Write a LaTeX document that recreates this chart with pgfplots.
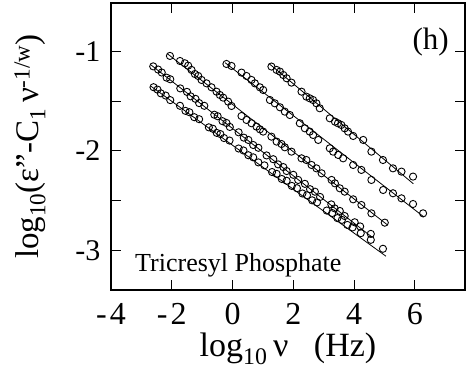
\documentclass[border=0pt]{standalone}
\usepackage{fontspec}
\setmainfont{Liberation Serif}
\usepackage{pgfplots}
\pgfplotsset{compat=1.18}
\begin{document}
\begin{tikzpicture}
\begin{axis}[
  scale only axis, width=354pt, height=287pt,
  xmin=-4, xmax=7.65, ymin=-3.4, ymax=-0.51,
  xtick={-4,-2,0,2,4,6}, ytick={-3,-2,-1}, minor ytick={-2.5,-1.5},
  xticklabels={-\kern3pt4,-\kern3pt2,0,2,4,6},
  tick align=inside, major tick length=10pt, minor tick length=10pt,
  tick style={line width=1pt, black},
  axis line style={line width=1.3pt},
  /pgf/number format/assume math mode=true,
  ticklabel style={font=\fontsize{30}{31}\selectfont},
  xticklabel style={yshift=-10pt, font=\fontsize{32}{33}\selectfont},
  yticklabel style={xshift=-7pt},
  label style={font=\fontsize{33}{34}\selectfont},
  xlabel={log\textsubscript{10}\,ν \ \ (Hz)},
  ylabel={log\textsubscript{10}(ε\char34-C\textsubscript{1}\,ν\textsuperscript{-1/w})},
  xlabel style={at={(axis description cs:0.5,0)}, anchor=base, yshift=-67pt, font=\fontsize{34}{35}\selectfont},
  ylabel style={at={(axis description cs:-0.2288,0.5)}, anchor=center, rotate=0},
  mark options={solid, line width=0.9pt, draw=black, fill=none},
  clip=false,
]
% fit lines
\addplot[black, line width=0.8pt] coordinates {(-2.15,-1.02) (5.1,-2.745)};
\addplot[black, line width=0.8pt] coordinates {(-2.7,-1.13) (4.6,-2.87)};
\addplot[black, line width=0.8pt] coordinates {(-2.7,-1.345) (5.05,-3.06)};
\addplot[black, line width=0.8pt] coordinates {(-0.25,-1.11) (6.3,-2.665)};
\addplot[black, line width=0.8pt] coordinates {(1.2,-1.12) (5.95,-2.33)};
% data
\addplot[only marks, mark=o, mark size=3.6pt] coordinates {
(-2.06,-1.043) (-1.73,-1.094) (-1.57,-1.117) (-1.46,-1.141) (-1.35,-1.184)
(-1.24,-1.225) (-1.13,-1.245) (-1.02,-1.285) (-0.856,-1.319) (-0.692,-1.359)
(-0.527,-1.403) (-0.418,-1.436) (-0.308,-1.463) (-0.144,-1.503) (-0.034,-1.547)
(0.295,-1.648) (0.46,-1.688) (0.624,-1.721) (0.788,-1.755) (0.90,-1.782)
(1.008,-1.805) (1.28,-1.856) (1.45,-1.906) (1.61,-1.930) (1.72,-1.963)
(1.94,-2.007) (2.27,-2.074) (2.43,-2.091) (2.60,-2.141) (2.76,-2.175)
(2.93,-2.225) (3.26,-2.292) (3.37,-2.326) (3.53,-2.376) (3.69,-2.410)
(3.97,-2.487) (4.24,-2.544) (4.57,-2.628) (5.01,-2.722)
};
\addplot[only marks, mark=o, mark size=3.6pt] coordinates {
(-2.61,-1.148) (-2.45,-1.180) (-2.33,-1.210) (-2.17,-1.262) (-2.05,-1.278)
(-1.72,-1.370) (-1.50,-1.405) (-1.38,-1.450) (-1.22,-1.475) (-1.10,-1.518)
(-0.93,-1.545) (-0.60,-1.635) (-0.49,-1.650) (-0.33,-1.700) (-0.20,-1.718)
(-0.09,-1.758) (0.20,-1.812) (0.37,-1.866) (0.52,-1.889) (0.68,-1.940)
(0.85,-1.968) (1.12,-2.045) (1.34,-2.083) (1.50,-2.135) (1.67,-2.162)
(1.78,-2.202) (2.00,-2.240) (2.16,-2.292) (2.38,-2.331) (2.55,-2.385)
(2.71,-2.410) (2.88,-2.463) (3.25,-2.538) (3.36,-2.578) (3.53,-2.604)
(3.69,-2.655) (4.02,-2.718) (4.20,-2.760) (4.55,-2.835)
};
\addplot[only marks, mark=o, mark size=3.6pt] coordinates {
(-2.60,-1.358) (-2.47,-1.382) (-2.36,-1.420) (-2.20,-1.442) (-2.05,-1.488)
(-1.73,-1.545) (-1.55,-1.596) (-1.42,-1.610) (-1.26,-1.660) (-1.10,-1.680)
(-0.78,-1.762) (-0.65,-1.776) (-0.52,-1.818) (-0.40,-1.830) (-0.28,-1.870)
(-0.10,-1.895) (0.20,-1.975) (0.36,-1.995) (0.52,-2.043) (0.68,-2.064)
(0.85,-2.115) (1.05,-2.145) (1.30,-2.212) (1.45,-2.230) (1.62,-2.282)
(1.78,-2.300) (1.95,-2.352) (2.12,-2.375) (2.30,-2.428) (2.45,-2.446)
(2.62,-2.497) (2.78,-2.518) (3.10,-2.600) (3.28,-2.625) (3.45,-2.676)
(3.60,-2.694) (3.78,-2.745) (3.95,-2.770) (4.22,-2.828) (4.55,-2.895)
(4.95,-2.985)
};
\addplot[only marks, mark=o, mark size=3.6pt] coordinates {
(-0.20,-1.124) (-0.034,-1.144) (0.295,-1.211) (0.46,-1.245) (0.624,-1.285)
(0.734,-1.319) (0.90,-1.359) (1.008,-1.386) (1.23,-1.487) (1.39,-1.520)
(1.56,-1.560) (1.72,-1.604) (1.885,-1.638) (2.214,-1.721) (2.38,-1.772)
(2.54,-1.805) (2.65,-1.839) (2.82,-1.889) (3.20,-1.973) (3.31,-2.007)
(3.475,-2.040) (3.64,-2.074) (3.97,-2.141) (4.24,-2.191) (4.57,-2.292)
(4.955,-2.393) (5.28,-2.426) (5.56,-2.477) (5.94,-2.534) (6.27,-2.628)
};
\addplot[only marks, mark=o, mark size=3.6pt] coordinates {
(1.28,-1.150) (1.45,-1.184) (1.56,-1.201) (1.67,-1.235) (1.78,-1.268)
(1.94,-1.312) (2.27,-1.403) (2.43,-1.453) (2.54,-1.470) (2.65,-1.487)
(2.76,-1.520) (2.87,-1.570) (3.20,-1.671) (3.37,-1.705) (3.47,-1.721)
(3.58,-1.738) (3.69,-1.772) (3.80,-1.805) (3.97,-1.849) (4.30,-1.889)
(4.57,-2.007) (4.95,-2.091) (5.28,-2.175) (5.56,-2.208) (5.94,-2.258)
};
\node[anchor=base west, font=\fontsize{26}{27}\selectfont, inner sep=0pt] at (axis cs:-3.21,-3.218) {Tricresyl Phosphate};
\node[anchor=center, font=\fontsize{31}{32}\selectfont, inner sep=0pt] at (axis cs:6.52,-0.90) {(h)};
\end{axis}
\pgfresetboundingbox
\path ([xshift=-111pt,yshift=-78pt]current axis.south west) rectangle ([xshift=1pt,yshift=3pt]current axis.north east);
\end{tikzpicture}
\end{document}
